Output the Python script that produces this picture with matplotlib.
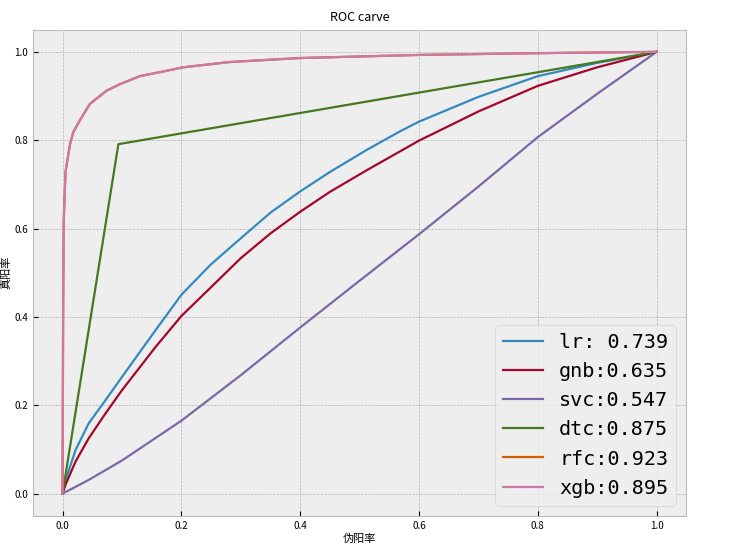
import numpy as np
import matplotlib
matplotlib.use("Agg")
import matplotlib.pyplot as plt

plt.style.use("bmh")
plt.rcParams['font.family'] = ['Noto Sans CJK SC', 'DejaVu Sans']
plt.rcParams['axes.unicode_minus'] = False

# ROC curves (fpr, tpr)
lr_fpr = [0.0, 0.005, 0.022, 0.044, 0.072, 0.1, 0.156, 0.2, 0.249, 0.3, 0.35, 0.4, 0.45,
          0.512, 0.568, 0.6, 0.7, 0.8, 0.9, 1.0]
lr_tpr = [0.0, 0.03, 0.099, 0.159, 0.211, 0.264, 0.369, 0.45, 0.518, 0.578, 0.636, 0.684, 0.728,
          0.778, 0.82, 0.842, 0.898, 0.945, 0.975, 1.0]

gnb_fpr = [0.0, 0.005, 0.022, 0.044, 0.072, 0.1, 0.156, 0.2, 0.249, 0.3, 0.35, 0.4, 0.45,
           0.512, 0.6, 0.7, 0.8, 0.9, 1.0]
gnb_tpr = [0.0, 0.02, 0.073, 0.125, 0.181, 0.234, 0.331, 0.402, 0.466, 0.533, 0.589, 0.638, 0.683,
           0.732, 0.799, 0.865, 0.923, 0.965, 1.0]

svc_fpr = [0.0, 0.044, 0.1, 0.2, 0.3, 0.4, 0.5, 0.6, 0.7, 0.8, 0.9, 1.0]
svc_tpr = [0.0, 0.031, 0.075, 0.165, 0.268, 0.376, 0.482, 0.587, 0.695, 0.807, 0.905, 1.0]

dtc_fpr = [0.0, 0.094, 1.0]
dtc_tpr = [0.0, 0.791, 1.0]

xgb_fpr = [0.0, 0.0005, 0.001, 0.002, 0.005, 0.0125, 0.018, 0.03, 0.046, 0.058, 0.074, 0.097,
           0.13, 0.164, 0.203, 0.282, 0.4, 0.6, 0.8, 1.0]
xgb_tpr = [0.0, 0.2, 0.4, 0.616, 0.728, 0.79, 0.818, 0.847, 0.882, 0.895, 0.912, 0.927,
           0.945, 0.954, 0.965, 0.977, 0.986, 0.993, 0.997, 1.0]

# rfc is hidden under xgb in the picture
rfc_fpr = xgb_fpr
rfc_tpr = xgb_tpr

names = ["lr", "gnb", "svc", "dtc", "rfc", "xgb"]
aucs = [0.739, 0.635, 0.547, 0.875, 0.923, 0.895]
curves = [(lr_fpr, lr_tpr), (gnb_fpr, gnb_tpr), (svc_fpr, svc_tpr),
          (dtc_fpr, dtc_tpr), (rfc_fpr, rfc_tpr), (xgb_fpr, xgb_tpr)]

fig = plt.figure(figsize=(7.46, 5.51), dpi=100)
ax = fig.add_axes([0.044, 0.064, 0.876, 0.882])

for name, auc, (fpr, tpr) in zip(names, aucs, curves):
    if name == "lr":
        label = "lr: %.3f" % auc
    else:
        label = "%s:%.3f" % (name, auc)
    ax.plot(fpr, tpr, label=label, lw=1.6)

ax.set_title("ROC carve", fontsize=9)
ax.set_xlabel("伪阳率", fontsize=8, labelpad=2)
ax.set_ylabel("真阳率", fontsize=8, labelpad=2)
ax.tick_params(labelsize=7)
ax.legend(loc="lower right", prop={"family": "DejaVu Sans Mono", "size": 14.5})

plt.savefig("out.png")
